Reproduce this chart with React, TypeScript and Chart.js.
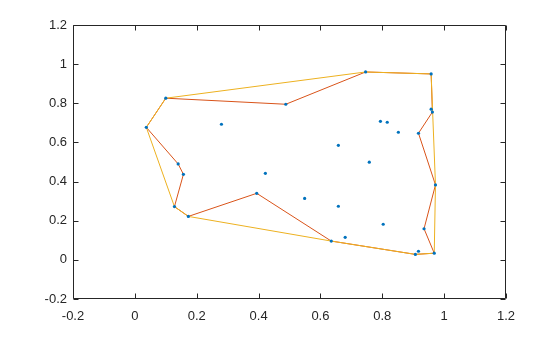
import React, { useEffect, useRef } from 'react';
import { Chart, registerables } from 'chart.js';

Chart.register(...registerables);

// Scattered sample points
const pointsX = [
  0.1, 0.488, 0.037, 0.28, 0.14, 0.746, 0.958, 0.958, 0.962, 0.794,
  0.816, 0.852, 0.917, 0.658, 0.758, 0.157, 0.128, 0.173, 0.394, 0.422,
  0.549, 0.972, 0.658, 0.803, 0.935, 0.635, 0.68, 0.917, 0.907, 0.968,
];
const pointsY = [
  0.826, 0.795, 0.677, 0.693, 0.49, 0.96, 0.95, 0.77, 0.755, 0.708,
  0.703, 0.652, 0.647, 0.585, 0.499, 0.437, 0.272, 0.222, 0.34, 0.442,
  0.314, 0.383, 0.274, 0.182, 0.159, 0.096, 0.115, 0.044, 0.028, 0.034,
];

// Vertex order of the concave boundary and of the convex hull (indices into points)
const boundaryOrder = [0, 1, 5, 6, 8, 12, 21, 24, 29, 28, 25, 18, 17, 16, 15, 4, 2, 0];
const hullOrder = [0, 5, 6, 21, 29, 28, 25, 17, 16, 2, 0];

const xTicks = [-0.2, 0, 0.2, 0.4, 0.6, 0.8, 1, 1.2];
const xTickLabels = ['-0.2', '0', '0.2', '0.4', '0.6', '0.8', '1', '1.2'];
const yTicks = [-0.2, 0, 0.2, 0.4, 0.6, 0.8, 1, 1.2];
const yTickLabels = ['-0.2', '0', '0.2', '0.4', '0.6', '0.8', '1', '1.2'];

const AXIS_COLOR = '#262626';
const FONT = { family: '"Liberation Sans", Arial, Helvetica, sans-serif', size: 13 };

const boxPlugin = {
  id: 'matlabBox',
  afterDatasetsDraw(chart: any) {
    const { ctx, chartArea, scales } = chart;
    const L = Math.round(chartArea.left) + 0.5;
    const R = Math.round(chartArea.right) - 0.5;
    const T = Math.round(chartArea.top) + 0.5;
    const B = Math.round(chartArea.bottom) - 0.5;
    const tl = 5;
    ctx.save();
    ctx.strokeStyle = AXIS_COLOR;
    ctx.lineWidth = 1;
    ctx.beginPath();
    ctx.rect(L, T, R - L, B - T);
    xTicks.forEach((v) => {
      const px = Math.round(scales.x.getPixelForValue(v)) + 0.5;
      ctx.moveTo(px, B);
      ctx.lineTo(px, B - tl);
      ctx.moveTo(px, T);
      ctx.lineTo(px, T + tl);
    });
    yTicks.forEach((v) => {
      const py = Math.round(scales.y.getPixelForValue(v)) + 0.5;
      ctx.moveTo(L, py);
      ctx.lineTo(L + tl, py);
      ctx.moveTo(R, py);
      ctx.lineTo(R - tl, py);
    });
    ctx.stroke();
    ctx.restore();
  },
};

export default function App() {
  const ref = useRef<HTMLCanvasElement | null>(null);

  useEffect(() => {
    document.body.style.margin = '0';
    const canvas = ref.current;
    if (!canvas) return;

    const pts = pointsX.map((x, i) => ({ x, y: pointsY[i] }));
    const boundary = boundaryOrder.map((i) => pts[i]);
    const hull = hullOrder.map((i) => pts[i]);

    const chart = new Chart(canvas, {
      type: 'scatter',
      data: {
        datasets: [
          {
            label: 'points',
            data: pts,
            pointRadius: 1.6,
            pointBorderWidth: 0,
            pointBackgroundColor: '#0072BD',
            backgroundColor: '#0072BD',
            showLine: false,
          },
          {
            label: 'hull',
            data: hull,
            showLine: true,
            borderColor: '#EDB120',
            borderWidth: 1,
            pointRadius: 0,
            fill: false,
            tension: 0,
          },
          {
            label: 'boundary',
            data: boundary,
            showLine: true,
            borderColor: '#D95319',
            borderWidth: 1,
            pointRadius: 0,
            fill: false,
            tension: 0,
          },
        ],
      },
      options: {
        animation: false,
        responsive: false,
        maintainAspectRatio: false,
        layout: { padding: { left: 0, top: 25, right: 54, bottom: 0 } },
        plugins: {
          legend: { display: false },
          tooltip: { enabled: false },
        },
        scales: {
          x: {
            type: 'linear',
            min: -0.2,
            max: 1.2,
            afterBuildTicks: (s: any) => {
              s.ticks = xTicks.map((v) => ({ value: v }));
            },
            afterFit: (s: any) => {
              s.height = 38;
            },
            ticks: {
              callback: (_v: any, i: number) => xTickLabels[i],
              color: AXIS_COLOR,
              font: FONT,
              padding: 10,
              maxRotation: 0,
              autoSkip: false,
            },
            grid: { display: false, drawTicks: false },
            border: { display: false },
          },
          y: {
            type: 'linear',
            min: -0.2,
            max: 1.2,
            afterBuildTicks: (s: any) => {
              s.ticks = yTicks.map((v) => ({ value: v }));
            },
            afterFit: (s: any) => {
              s.width = 73;
            },
            ticks: {
              callback: (_v: any, i: number) => yTickLabels[i],
              color: AXIS_COLOR,
              font: FONT,
              padding: 6,
              autoSkip: false,
            },
            grid: { display: false, drawTicks: false },
            border: { display: false },
          },
        },
      },
      plugins: [boxPlugin],
    });

    return () => chart.destroy();
  }, []);

  return (
    <div style={{ position: 'fixed', left: 0, top: 0, width: 560, height: 337, background: '#fff' }}>
      <canvas ref={ref} width={560} height={337} style={{ width: 560, height: 337, display: 'block' }} />
    </div>
  );
}
